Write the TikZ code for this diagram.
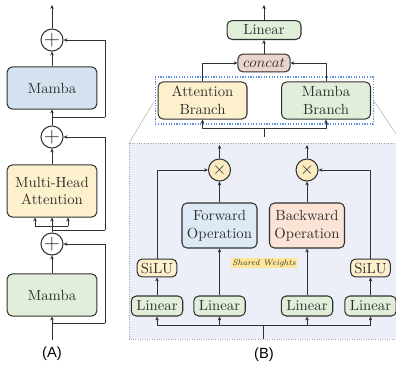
\documentclass[tikz,border=0pt]{standalone}
\usepackage{fontspec}
\newfontfamily\capfont{Liberation Sans}
\usetikzlibrary{arrows.meta,positioning,fit}
\definecolor{mmInk}{HTML}{303030}
\definecolor{mmBlue}{HTML}{D4E2F0}
\definecolor{mmCream}{HTML}{FDF0CC}
\definecolor{mmGreen}{HTML}{E1EEDA}
\definecolor{mmRose}{HTML}{E9D5CC}
\definecolor{mmSky}{HTML}{DDEAF6}
\definecolor{mmPeach}{HTML}{FBE3D6}
\definecolor{mmMul}{HTML}{FBEBC2}
\definecolor{mmPanel}{HTML}{ECEFF8}
\definecolor{mmDash}{HTML}{5B8BDB}
\definecolor{mmHigh}{HTML}{FFE699}
\definecolor{mmGray}{HTML}{A6A6A6}
\tikzset{
 hybrid/.style={font=\normalsize,line join=round,text=mmInk},
 block/.style={draw=mmInk,line width=.7pt,rounded corners=3.4pt,align=center,inner sep=0pt},
 tallbox/.style={block,minimum width=61pt,minimum height=28.6pt},
 branchbox/.style={block,minimum width=60.5pt,minimum height=25.2pt},
 opbox/.style={block,minimum width=51pt,minimum height=30.6pt},
 linbox/.style={block,fill=mmGreen,minimum width=35pt,minimum height=13.6pt},
 silubox/.style={block,fill=mmCream,minimum width=27pt,minimum height=12.2pt},
 oplus/.style={circle,draw=mmInk,fill=white,line width=.7pt,inner sep=0pt,minimum size=15pt,font=\Large},
 mul/.style={circle,draw=mmInk,fill=mmMul,line width=.7pt,inner sep=0pt,minimum size=15pt,font=\large},
 flow/.style={draw=mmInk,line width=.6pt,-{Stealth[length=2.6pt,width=2.4pt]}},
 wire/.style={draw=mmInk,line width=.6pt},
 group/.style={draw=mmDash,line width=.8pt,densely dotted,inner xsep=1.5pt,inner ysep=3pt},
 panel/.style={draw=mmGray,fill=mmPanel,line width=.6pt,densely dotted},
 zoomline/.style={draw=mmGray!80,line width=.4pt},
 tag/.style={fill=mmHigh,font=\fontsize{5.5}{6}\selectfont\itshape,inner sep=1.2pt},
 caption/.style={font=\capfont\normalsize,text=black}
}

\begin{document}
\begin{tikzpicture}[hybrid,x=.68pt,y=-.68pt]
 \useasboundingbox (0,0) rectangle (396,365);
 % (A) stack
 \node[oplus] (addT) at (52,40) {$+$};
 \node[tallbox,fill=mmBlue] (mambaT) at (52,88) {Mamba};
 \node[oplus] (addM) at (52,137) {$+$};
 \node[block,fill=mmCream,minimum width=61pt,minimum height=35.4pt] (mha) at (52,191) {Multi-Head\\Attention};
 \node[oplus] (addB) at (52,244) {$+$};
 \node[tallbox,fill=mmGreen] (mambaB) at (52,295) {Mamba};
 \coordinate (outA) at (52,5);
 \coordinate (inA) at (52,340);
 \coordinate (skipT) at (52,117); \coordinate (sideT) at (105,117);
 \coordinate (skipM) at (52,230); \coordinate (sideM) at (105,230);
 \coordinate (skipB) at (52,323); \coordinate (sideB) at (105,323);
 \coordinate (tL) at (35,226); \coordinate (tM) at (52,226); \coordinate (tR) at (68,226);
 \draw[flow] (addT) -- (outA);
 \draw[flow] (mambaT) -- (addT);
 \draw[flow] (addM) -- (mambaT);
 \draw[wire] (skipT) -- (sideT);
 \draw[flow] (sideT) |- (addT);
 \draw[flow] (mha) -- (addM);
 \draw[wire] (addB) -- (tM);
 \draw[wire] (tL) -- (tR);
 \draw[flow] (tL) -- (tL |- mha.south);
 \draw[flow] (tM) -- (mha);
 \draw[flow] (tR) -- (tR |- mha.south);
 \draw[wire] (skipM) -- (sideM);
 \draw[flow] (sideM) |- (addM);
 \draw[flow] (mambaB) -- (addB);
 \draw[flow] (inA) -- (mambaB);
 \draw[wire] (skipB) -- (sideB);
 \draw[flow] (sideB) |- (addB);
 \node[caption] (capA) at (52,354) {(A)};

 % (B) hybrid block
 \draw[panel] (129,143) rectangle (402,339);
 \node[block,fill=mmGreen,minimum width=50.3pt,minimum height=12.9pt] (linO) at (264,30) {Linear};
 \node[block,fill=mmRose,minimum width=35.4pt,minimum height=12.2pt] (cat) at (264,63) {$concat$};
 \node[branchbox,fill=mmCream] (attBr) at (202.5,100.5) {Attention\\Branch};
 \node[branchbox,fill=mmGreen] (mamBr) at (326,100.5) {Mamba\\Branch};
 \node[group,fit=(attBr)(mamBr)] (grp) {};
 \draw[zoomline] (grp.west) -- (129,143);
 \draw[zoomline] (grp.east) -- (402,143);
 \coordinate (outB) at (264,5);
 \coordinate (busB) at (264,128); \coordinate (tailB) at (264,137);
 \draw[flow] (linO) -- (outB);
 \draw[flow] (cat) -- (linO);
 \draw[flow] (attBr) |- (cat);
 \draw[flow] (mamBr) |- (cat);
 \draw[wire] (tailB) -- (busB);
 \draw[flow] (busB) -| (attBr);
 \draw[flow] (busB) -| (mamBr);

 % inside the branch
 \node[mul] (mulF) at (219.5,170) {$\times$};
 \node[mul] (mulB) at (307,170) {$\times$};
 \node[opbox,fill=mmSky] (fwd) at (219.5,225.5) {Forward\\Operation};
 \node[opbox,fill=mmPeach] (bwd) at (307,225.5) {Backward\\Operation};
 \node[silubox] (siluL) at (157,268) {SiLU};
 \node[silubox] (siluR) at (370.5,268) {SiLU};
 \node[linbox] (lin1) at (157,306) {Linear};
 \node[linbox] (lin2) at (219.5,306) {Linear};
 \node[linbox] (lin3) at (307,306) {Linear};
 \node[linbox] (lin4) at (370.5,306) {Linear};
 \node[tag] (shared) at (264,263) {Shared Weights};
 \coordinate (upF) at (219.5,145); \coordinate (upB) at (307,145);
 \coordinate (busC) at (263,325); \coordinate (tailC) at (263,339);
 \draw[flow] (mulF) -- (upF);
 \draw[flow] (mulB) -- (upB);
 \draw[flow] (fwd) -- (mulF);
 \draw[flow] (bwd) -- (mulB);
 \draw[flow] (lin2) -- (fwd);
 \draw[flow] (lin3) -- (bwd);
 \draw[flow] (lin1) -- (siluL);
 \draw[flow] (lin4) -- (siluR);
 \draw[flow] (siluL) |- (mulF);
 \draw[flow] (siluR) |- (mulB);
 \draw[wire] (tailC) -- (busC);
 \foreach \lin in {lin1,lin2,lin3,lin4}
  \draw[flow] (busC) -| (\lin);
 \node[caption] (capB) at (264,355) {(B)};
\end{tikzpicture}
\end{document}
